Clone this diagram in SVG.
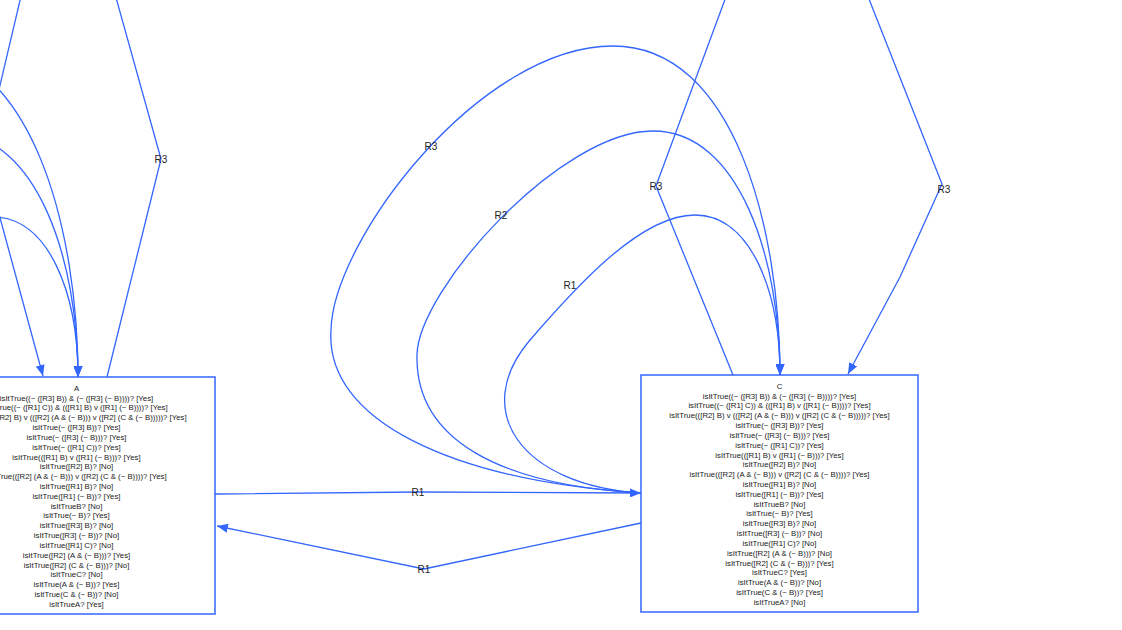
<svg xmlns="http://www.w3.org/2000/svg" width="1122" height="630" viewBox="0 0 1122 630">
<style>
.e{fill:none;stroke:#3366ff;stroke-width:1.3}
.n{fill:#ffffff;stroke:#3366ff;stroke-width:1.5}
.t{font-family:"Liberation Sans",Arial,sans-serif;font-size:7.8px;fill:#222;text-anchor:middle}
.l{font-family:"Liberation Sans",Arial,sans-serif;font-size:10px;fill:#222;text-anchor:middle;dominant-baseline:central}
</style>
<defs>
<marker id="ah" markerUnits="userSpaceOnUse" markerWidth="11" markerHeight="9" refX="11" refY="4.5" orient="auto">
<path d="M0,0 L11,4.5 L0,9 z" fill="#3366ff"/>
</marker>
</defs>
<rect width="1122" height="630" fill="#ffffff"/>
<g id="connectors">
<!-- C self loops -->
<path class="e" d="M641,493 C520,485 470,410 530,340 C575,288 640,215 695,215 C750,215 780,290 780,375" marker-end="url(#ah)"/>
<path class="e" d="M641,493 C500,485 415,440 417,355 C418,290 560,131 653,131 C740,131 780,260 780,375" marker-end="url(#ah)"/>
<path class="e" d="M641,493 C450,480 325,420 331,330 C333,240 480,46 613,46 C735,46 780,230 780,375" marker-end="url(#ah)"/>
<!-- A self loops -->
<g transform="translate(-702,2)">
<path class="e" d="M641,493 C520,485 470,410 530,340 C575,288 640,215 695,215 C750,215 780,290 780,375" marker-end="url(#ah)"/>
<path class="e" d="M641,493 C500,485 415,440 417,355 C418,290 560,131 653,131 C740,131 780,260 780,375" marker-end="url(#ah)"/>
<path class="e" d="M641,493 C450,480 325,420 331,330 C333,240 480,46 613,46 C735,46 780,230 780,375" marker-end="url(#ah)"/>
</g>
<path class="e" d="M22,-8 L-3,98"/>
<path class="e" d="M-10,181 L43,376" marker-end="url(#ah)"/>
<path class="e" d="M115,-6 L161,159 L107,377"/>
<path class="e" d="M727,-6 L656,186 L733,375"/>
<path class="e" d="M867,-6 L942,184 L900,277 L848,374" marker-end="url(#ah)"/>
<path class="e" d="M215,494 L418,492 L641,493" marker-end="url(#ah)"/>
<path class="e" d="M641,523 L424,569 L217,526" marker-end="url(#ah)"/>
<text class="l" x="431" y="146">R3</text>
<text class="l" x="501" y="215">R2</text>
<text class="l" x="570" y="285">R1</text>
<text class="l" x="161" y="159">R3</text>
<text class="l" x="656" y="186">R3</text>
<text class="l" x="944" y="189">R3</text>
<text class="l" x="418" y="492">R1</text>
<text class="l" x="424" y="569">R1</text>
</g>
<g id="node-A">
<rect class="n" x="-62" y="377" width="277" height="237"/>
<text class="t" x="76.5" y="390.8"><tspan x="76.5">A</tspan><tspan x="76.5" dy="9.82">isItTrue((~ ([R3] B)) &amp; (~ ([R3] (~ B))))? [Yes]</tspan><tspan x="76.5" dy="9.82">isItTrue((~ ([R1] C)) &amp; (([R1] B) v ([R1] (~ B))))? [Yes]</tspan><tspan x="76.5" dy="9.82">isItTrue(([R2] B) v (([R2] (A &amp; (~ B))) v ([R2] (C &amp; (~ B)))))? [Yes]</tspan><tspan x="76.5" dy="9.82">isItTrue(~ ([R3] B))? [Yes]</tspan><tspan x="76.5" dy="9.82">isItTrue(~ ([R3] (~ B)))? [Yes]</tspan><tspan x="76.5" dy="9.82">isItTrue(~ ([R1] C))? [Yes]</tspan><tspan x="76.5" dy="9.82">isItTrue(([R1] B) v ([R1] (~ B)))? [Yes]</tspan><tspan x="76.5" dy="9.82">isItTrue([R2] B)? [No]</tspan><tspan x="76.5" dy="9.82">isItTrue(([R2] (A &amp; (~ B))) v ([R2] (C &amp; (~ B))))? [Yes]</tspan><tspan x="76.5" dy="9.82">isItTrue([R1] B)? [No]</tspan><tspan x="76.5" dy="9.82">isItTrue([R1] (~ B))? [Yes]</tspan><tspan x="76.5" dy="9.82">isItTrueB? [No]</tspan><tspan x="76.5" dy="9.82">isItTrue(~ B)? [Yes]</tspan><tspan x="76.5" dy="9.82">isItTrue([R3] B)? [No]</tspan><tspan x="76.5" dy="9.82">isItTrue([R3] (~ B))? [No]</tspan><tspan x="76.5" dy="9.82">isItTrue([R1] C)? [No]</tspan><tspan x="76.5" dy="9.82">isItTrue([R2] (A &amp; (~ B)))? [Yes]</tspan><tspan x="76.5" dy="9.82">isItTrue([R2] (C &amp; (~ B)))? [No]</tspan><tspan x="76.5" dy="9.82">isItTrueC? [No]</tspan><tspan x="76.5" dy="9.82">isItTrue(A &amp; (~ B))? [Yes]</tspan><tspan x="76.5" dy="9.82">isItTrue(C &amp; (~ B))? [No]</tspan><tspan x="76.5" dy="9.82">isItTrueA? [Yes]</tspan></text>
</g>
<g id="node-C">
<rect class="n" x="641" y="375" width="277" height="237"/>
<text class="t" x="779.5" y="388.8"><tspan x="779.5">C</tspan><tspan x="779.5" dy="9.82">isItTrue((~ ([R3] B)) &amp; (~ ([R3] (~ B))))? [Yes]</tspan><tspan x="779.5" dy="9.82">isItTrue((~ ([R1] C)) &amp; (([R1] B) v ([R1] (~ B))))? [Yes]</tspan><tspan x="779.5" dy="9.82">isItTrue(([R2] B) v (([R2] (A &amp; (~ B))) v ([R2] (C &amp; (~ B)))))? [Yes]</tspan><tspan x="779.5" dy="9.82">isItTrue(~ ([R3] B))? [Yes]</tspan><tspan x="779.5" dy="9.82">isItTrue(~ ([R3] (~ B)))? [Yes]</tspan><tspan x="779.5" dy="9.82">isItTrue(~ ([R1] C))? [Yes]</tspan><tspan x="779.5" dy="9.82">isItTrue(([R1] B) v ([R1] (~ B)))? [Yes]</tspan><tspan x="779.5" dy="9.82">isItTrue([R2] B)? [No]</tspan><tspan x="779.5" dy="9.82">isItTrue(([R2] (A &amp; (~ B))) v ([R2] (C &amp; (~ B))))? [Yes]</tspan><tspan x="779.5" dy="9.82">isItTrue([R1] B)? [No]</tspan><tspan x="779.5" dy="9.82">isItTrue([R1] (~ B))? [Yes]</tspan><tspan x="779.5" dy="9.82">isItTrueB? [No]</tspan><tspan x="779.5" dy="9.82">isItTrue(~ B)? [Yes]</tspan><tspan x="779.5" dy="9.82">isItTrue([R3] B)? [No]</tspan><tspan x="779.5" dy="9.82">isItTrue([R3] (~ B))? [No]</tspan><tspan x="779.5" dy="9.82">isItTrue([R1] C)? [No]</tspan><tspan x="779.5" dy="9.82">isItTrue([R2] (A &amp; (~ B)))? [No]</tspan><tspan x="779.5" dy="9.82">isItTrue([R2] (C &amp; (~ B)))? [Yes]</tspan><tspan x="779.5" dy="9.82">isItTrueC? [Yes]</tspan><tspan x="779.5" dy="9.82">isItTrue(A &amp; (~ B))? [No]</tspan><tspan x="779.5" dy="9.82">isItTrue(C &amp; (~ B))? [Yes]</tspan><tspan x="779.5" dy="9.82">isItTrueA? [No]</tspan></text>
</g>
</svg>
